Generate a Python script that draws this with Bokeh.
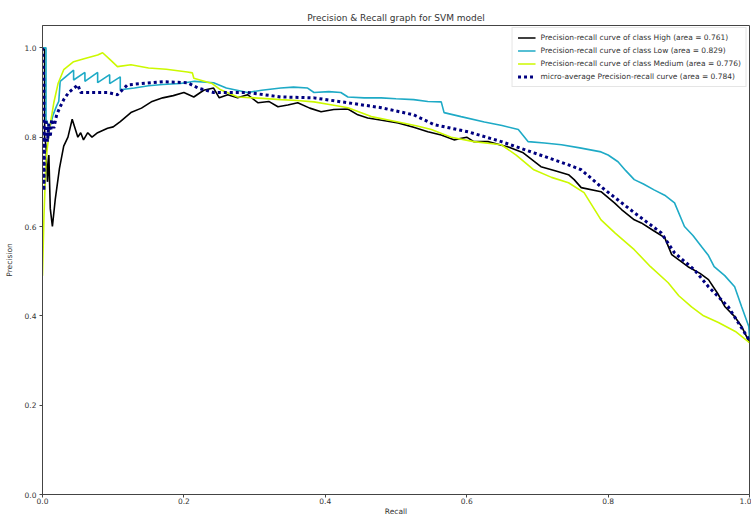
from bokeh.plotting import figure
from bokeh.models import Range1d, FixedTicker, NumeralTickFormatter
from bokeh.embed import file_html
from bokeh.resources import INLINE

# ---- data ----
recall_high = [0.0, 0.003, 0.003, 0.005, 0.007, 0.009, 0.011, 0.014, 0.018, 0.024, 0.030, 0.036, 0.042, 0.046,
               0.050, 0.054, 0.058, 0.064, 0.070, 0.078, 0.085, 0.092, 0.100, 0.110, 0.125, 0.140, 0.155, 0.170,
               0.185, 0.200, 0.214, 0.228, 0.242, 0.250, 0.262, 0.276, 0.290, 0.305, 0.320, 0.333, 0.347, 0.361,
               0.378, 0.394, 0.412, 0.432, 0.446, 0.460, 0.480, 0.503, 0.525, 0.545, 0.564, 0.582, 0.600, 0.610,
               0.630, 0.659, 0.680, 0.705, 0.725, 0.744, 0.752, 0.762, 0.790, 0.809, 0.819, 0.837, 0.847, 0.865,
               0.880, 0.890, 0.913, 0.930, 0.942, 0.955, 0.965, 0.978, 0.989, 1.0]
precision_high = [1.0, 1.0, 0.80, 0.78, 0.70, 0.76, 0.64, 0.60, 0.66, 0.73, 0.78, 0.80, 0.84, 0.82,
                  0.80, 0.81, 0.794, 0.81, 0.80, 0.81, 0.815, 0.82, 0.823, 0.835, 0.855, 0.865, 0.88, 0.888,
                  0.893, 0.90, 0.89, 0.905, 0.91, 0.888, 0.895, 0.888, 0.895, 0.877, 0.88, 0.868, 0.872, 0.877,
                  0.865, 0.857, 0.862, 0.863, 0.850, 0.843, 0.838, 0.832, 0.822, 0.812, 0.805, 0.794, 0.80, 0.79,
                  0.79, 0.778, 0.765, 0.734, 0.725, 0.716, 0.705, 0.687, 0.678, 0.653, 0.638, 0.615, 0.608, 0.59,
                  0.575, 0.537, 0.51, 0.495, 0.481, 0.45, 0.421, 0.40, 0.376, 0.34]

recall_low = [0.0, 0.005, 0.005, 0.010, 0.015, 0.020, 0.023, 0.025, 0.044, 0.044, 0.060, 0.060, 0.078, 0.078,
              0.095, 0.095, 0.110, 0.110, 0.130, 0.150, 0.170, 0.195, 0.215, 0.242, 0.260, 0.290, 0.310, 0.337,
              0.355, 0.375, 0.384, 0.405, 0.422, 0.432, 0.455, 0.479, 0.500, 0.525, 0.545, 0.564, 0.568, 0.592,
              0.625, 0.650, 0.673, 0.687, 0.710, 0.734, 0.760, 0.790, 0.800, 0.814, 0.825, 0.837, 0.850, 0.865,
              0.880, 0.894, 0.908, 0.920, 0.932, 0.942, 0.950, 0.965, 0.979, 0.989, 0.999, 1.0]
precision_low = [1.0, 1.0, 0.84, 0.82, 0.85, 0.87, 0.88, 0.925, 0.95, 0.928, 0.945, 0.925, 0.945, 0.922,
                 0.94, 0.92, 0.935, 0.906, 0.91, 0.915, 0.918, 0.92, 0.925, 0.922, 0.91, 0.90, 0.905, 0.91,
                 0.912, 0.91, 0.90, 0.902, 0.90, 0.89, 0.888, 0.888, 0.886, 0.884, 0.88, 0.879, 0.855, 0.846,
                 0.834, 0.826, 0.817, 0.79, 0.787, 0.783, 0.776, 0.767, 0.76, 0.745, 0.725, 0.705, 0.695, 0.682,
                 0.67, 0.653, 0.60, 0.58, 0.555, 0.535, 0.51, 0.49, 0.465, 0.42, 0.376, 0.35]

recall_medium = [0.0, 0.002, 0.005, 0.010, 0.016, 0.022, 0.030, 0.044, 0.060, 0.078, 0.085, 0.096, 0.106, 0.125,
                 0.150, 0.175, 0.205, 0.212, 0.214, 0.240, 0.252, 0.276, 0.300, 0.337, 0.360, 0.384, 0.410, 0.432,
                 0.450, 0.465, 0.503, 0.530, 0.550, 0.578, 0.610, 0.649, 0.670, 0.695, 0.720, 0.744, 0.766, 0.790,
                 0.810, 0.837, 0.860, 0.885, 0.900, 0.918, 0.935, 0.956, 0.980, 1.0]
precision_medium = [0.49, 0.62, 0.75, 0.82, 0.877, 0.92, 0.951, 0.969, 0.976, 0.984, 0.989, 0.973, 0.958, 0.962,
                    0.955, 0.952, 0.946, 0.944, 0.932, 0.92, 0.906, 0.89, 0.888, 0.884, 0.882, 0.879, 0.872, 0.866,
                    0.855, 0.846, 0.834, 0.825, 0.817, 0.80, 0.79, 0.783, 0.76, 0.727, 0.71, 0.698, 0.676, 0.615,
                    0.585, 0.548, 0.51, 0.474, 0.445, 0.42, 0.40, 0.385, 0.365, 0.34]

recall_micro = [0.0, 0.002, 0.002, 0.003, 0.005, 0.007, 0.009, 0.011, 0.013, 0.016, 0.020, 0.025, 0.030, 0.037,
                0.050, 0.054, 0.068, 0.092, 0.106, 0.120, 0.140, 0.171, 0.205, 0.220, 0.242, 0.290, 0.337, 0.384,
                0.432, 0.479, 0.525, 0.554, 0.602, 0.649, 0.695, 0.744, 0.762, 0.790, 0.837, 0.875, 0.894, 0.922,
                0.942, 0.970, 1.0]
precision_micro = [1.0, 0.92, 0.68, 0.80, 0.84, 0.79, 0.83, 0.80, 0.84, 0.82, 0.85, 0.868, 0.884, 0.90,
                   0.917, 0.90, 0.90, 0.90, 0.895, 0.917, 0.92, 0.924, 0.922, 0.91, 0.90, 0.90, 0.89, 0.888,
                   0.877, 0.866, 0.85, 0.828, 0.812, 0.79, 0.765, 0.738, 0.727, 0.689, 0.631, 0.586, 0.541, 0.503,
                   0.465, 0.42, 0.345]

class_names = ["High", "Low", "Medium"]
class_areas = [0.761, 0.829, 0.776]
micro_area = 0.784
x_ticks = [0.0, 0.2, 0.4, 0.6, 0.8, 1.0]
y_ticks = [0.0, 0.2, 0.4, 0.6, 0.8, 1.0]

FONT = "DejaVu Sans"
TXT = "#333333"

p = figure(width=751, height=518, output_backend="svg", toolbar_location=None,
           x_range=Range1d(0.0, 1.0), y_range=Range1d(0.0, 1.05),
           title="Precision & Recall graph for SVM model",
           min_border_left=42, min_border_right=2, min_border_top=25, min_border_bottom=20)

p.title.align = "center"
p.title.text_font = FONT
p.title.text_font_size = "9px"
p.title.text_font_style = "normal"
p.title.text_color = TXT
p.title.standoff = 5

p.xgrid.visible = False
p.ygrid.visible = False
p.outline_line_color = "#444444"
p.outline_line_width = 1
p.background_fill_color = "white"

for ax, ticks, lab in ((p.xaxis, x_ticks, "Recall"), (p.yaxis, y_ticks, "Precision")):
    ax.ticker = FixedTicker(ticks=ticks)
    ax.formatter = NumeralTickFormatter(format="0.0")
    ax.axis_label = lab
    ax.axis_label_text_font = FONT
    ax.axis_label_text_font_size = "7.5px"
    ax.axis_label_text_font_style = "normal"
    ax.axis_label_text_color = TXT
    ax.axis_label_standoff = 0
    ax.major_label_text_font = FONT
    ax.major_label_text_font_size = "7.5px"
    ax.major_label_text_color = TXT
    ax.major_label_standoff = 0
    ax.major_tick_in = 0
    ax.major_tick_out = 3
    ax.minor_tick_in = 0
    ax.minor_tick_out = 0
    ax.axis_line_color = "#444444"
    ax.major_tick_line_color = "#444444"

p.yaxis.axis_label_standoff = 8
p.yaxis.major_label_standoff = 3

colors = ["#000000", "#1eaac6", "#ccf900"]
series = [(recall_high, precision_high), (recall_low, precision_low), (recall_medium, precision_medium)]
for (r, pr), name, area, c in zip(series, class_names, class_areas, colors):
    p.line(r, pr, line_color=c, line_width=1.6,
           legend_label=f"Precision-recall curve of class {name} (area = {area:.3f})")

p.line(recall_micro, precision_micro, line_color="navy", line_width=3, line_dash="3 3",
       legend_label=f"micro-average Precision-recall curve (area = {micro_area:.3f})")

lg = p.legend[0]
lg.location = "top_right"
lg.margin = 2
lg.padding = 5
lg.spacing = 4
lg.label_height = 9
lg.glyph_height = 9
lg.glyph_width = 18
lg.label_standoff = 5
lg.label_text_font = FONT
lg.label_text_font_size = "7.5px"
lg.label_text_color = TXT
lg.border_line_color = "#cccccc"
lg.background_fill_alpha = 0.8

open("out.html", "w").write(file_html(p, INLINE))
